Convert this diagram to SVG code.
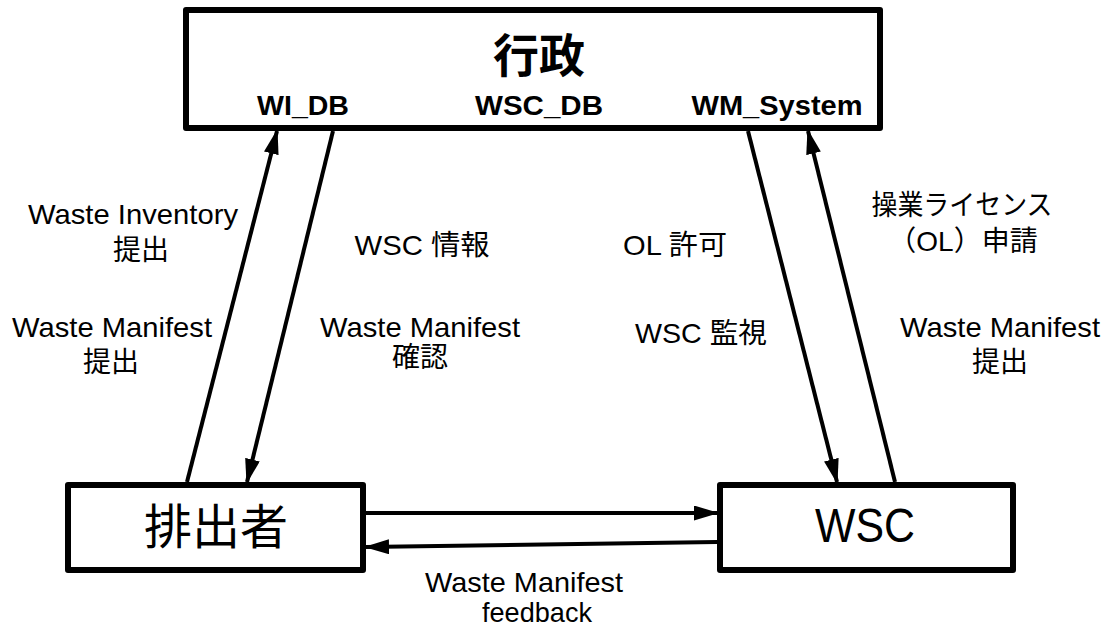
<svg xmlns="http://www.w3.org/2000/svg" width="1111" height="634" viewBox="0 0 1111 634">
<style>
.box{fill:#fff;stroke:#000;stroke-width:6;stroke-linejoin:round}
.ln{stroke:#000;stroke-width:4;fill:none}
.lb{font-family:"Liberation Sans","Noto Sans CJK JP",sans-serif;font-size:28px;fill:#000;text-anchor:middle}
.db{font-family:"Liberation Sans",Arial,sans-serif;font-size:28px;font-weight:bold;fill:#000;text-anchor:middle}
.big{font-family:"Liberation Sans","Noto Sans CJK JP",sans-serif;font-size:48px;fill:#000;text-anchor:middle}
</style>
<defs>
<marker id="ah" markerWidth="25" markerHeight="15" refX="23" refY="7.5" orient="auto" markerUnits="userSpaceOnUse">
<path d="M0,0 L25,7.5 L0,15 Z" fill="#000"/>
</marker>
</defs>
<rect width="1111" height="634" fill="#fff"/>
<g id="gyosei">
<rect class="box" x="186" y="10" width="694" height="118"/>
<text x="539" y="72" font-family="'Noto Sans CJK JP',sans-serif" font-size="46" font-weight="bold" text-anchor="middle">行政</text>
<text class="db" x="303" y="115" textLength="92" lengthAdjust="spacingAndGlyphs">WI_DB</text>
<text class="db" x="539" y="115" textLength="128" lengthAdjust="spacingAndGlyphs">WSC_DB</text>
<text class="db" x="777" y="115" textLength="171" lengthAdjust="spacingAndGlyphs">WM_System</text>
</g>
<g id="haishutsusha">
<rect class="box" x="68" y="485" width="295" height="85"/>
<text class="big" x="216" y="544" font-family="'Noto Sans CJK JP',sans-serif">排出者</text>
</g>
<g id="wsc">
<rect class="box" x="720" y="485" width="293" height="85"/>
<text class="big" x="865" y="542" textLength="100" lengthAdjust="spacingAndGlyphs">WSC</text>
</g>
<g id="connectors">
<line class="ln" x1="187" y1="482" x2="277" y2="131" marker-end="url(#ah)"/>
<line class="ln" x1="333" y1="131" x2="247" y2="482" marker-end="url(#ah)"/>
<line class="ln" x1="748" y1="131" x2="837" y2="482" marker-end="url(#ah)"/>
<line class="ln" x1="895" y1="482" x2="808" y2="131" marker-end="url(#ah)"/>
<line class="ln" x1="366" y1="513" x2="717" y2="513" marker-end="url(#ah)"/>
<line class="ln" x1="717" y1="542" x2="366" y2="547" marker-end="url(#ah)"/>
</g>
<g id="labels">
<text class="lb" x="133" y="224" textLength="210" lengthAdjust="spacingAndGlyphs">Waste Inventory</text>
<text class="lb" x="141" y="260">提出</text>
<text class="lb" x="112" y="337" textLength="200" lengthAdjust="spacingAndGlyphs">Waste Manifest</text>
<text class="lb" x="111" y="372">提出</text>
<text class="lb" x="422" y="255" textLength="135" lengthAdjust="spacingAndGlyphs">WSC 情報</text>
<text class="lb" x="420" y="337" textLength="200" lengthAdjust="spacingAndGlyphs">Waste Manifest</text>
<text class="lb" x="420" y="367">確認</text>
<text class="lb" x="675" y="255" textLength="104" lengthAdjust="spacingAndGlyphs">OL 許可</text>
<text class="lb" x="701" y="343" textLength="132" lengthAdjust="spacingAndGlyphs">WSC 監視</text>
<text class="lb" x="962" y="215" textLength="181" lengthAdjust="spacingAndGlyphs">操業ライセンス</text>
<text class="lb" x="963" y="251" font-size="26">（OL）申請</text>
<text class="lb" x="1000" y="337" textLength="200" lengthAdjust="spacingAndGlyphs">Waste Manifest</text>
<text class="lb" x="1000" y="372">提出</text>
<text class="lb" x="524" y="592" textLength="198" lengthAdjust="spacingAndGlyphs">Waste Manifest</text>
<text class="lb" x="537" y="622" textLength="110" lengthAdjust="spacingAndGlyphs">feedback</text>
</g>
</svg>
